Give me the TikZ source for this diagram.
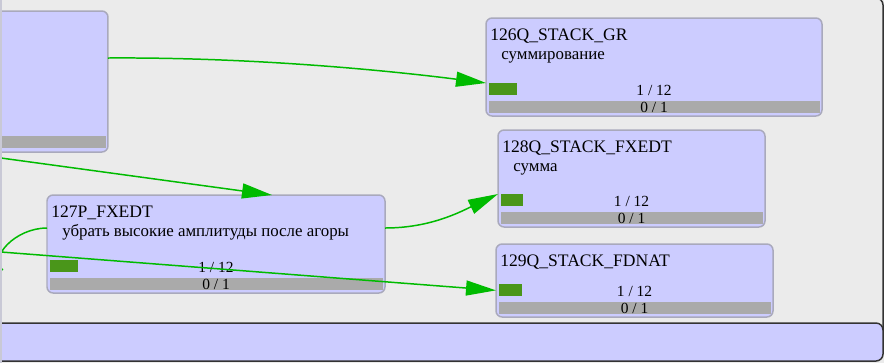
\documentclass[tikz,border=0pt]{standalone}
\usepackage{fontspec}
\setmainfont{Liberation Serif}
\usetikzlibrary{arrows.meta}
\definecolor{bgcol}{HTML}{EBEBEB}
\definecolor{jobfill}{HTML}{CCCCFF}
\definecolor{jobline}{HTML}{A9A9BC}
\definecolor{okcol}{HTML}{4A961A}
\definecolor{runcol}{HTML}{AAAAAA}
\definecolor{linkcol}{HTML}{00BB00}
\definecolor{framecol}{HTML}{333333}
\definecolor{stripcol}{HTML}{C9C9D6}

\newcommand{\jobnode}[7]{%
  \node[jobbox, minimum width=#4*0.02cm, minimum height=#5*0.02cm] (#1) at (#2,#3) {};
  \node[okbar, minimum width=(#4-5)/12*0.02cm] (#1ok) at ([shift={(3,-33)}]#1.south west) {};
  \node[runbar, minimum width=(#4-5)*0.02cm] (#1run) at ([shift={(3,-15)}]#1.south west) {};
  \node[jobtitle] at ([shift={(4,22)}]#1.north west) {#6};
  \node[jobnote] at ([shift={(15,41)}]#1.north west) {#7};
  \node[jobcount] at (#1.center |- #1ok.south) {1 / 12};
  \node[jobcount, yshift=0.02cm] at (#1.center |- #1run.south) {0 / 1};
}

\begin{document}
\begin{tikzpicture}[x=0.02cm, y=-0.02cm,
  jobbox/.style={draw=jobline, fill=jobfill, line width=0.85pt, rounded corners=3.5pt,
    anchor=north west, inner sep=0pt, outer sep=0pt},
  okbar/.style={fill=okcol, anchor=north west, minimum height=0.24cm, inner sep=0pt},
  runbar/.style={fill=runcol, anchor=north west, minimum height=0.24cm, inner sep=0pt},
  jobtitle/.style={anchor=base west, inner sep=0pt, font=\fontsize{10}{12}\selectfont},
  jobnote/.style={anchor=base west, inner sep=0pt, font=\fontsize{9.6}{11}\selectfont},
  jobcount/.style={anchor=base, inner sep=0pt, font=\fontsize{8.8}{10}\selectfont},
  link/.style={draw=linkcol, line width=0.85pt, -{Triangle[length=0.6cm,width=0.3cm]}},
  frame/.style={draw=framecol, line width=0.85pt, rounded corners=4pt}]
\useasboundingbox (0,0) rectangle (884,363);
\fill[bgcol] (0,0) rectangle (884,363);
\draw[frame, fill=bgcol] (-20,-2) rectangle (883,340);
\draw[frame, fill=jobfill] (-20,323) rectangle (883,361);

\node[jobbox, minimum width=2.6cm, minimum height=141*0.02cm] (src) at (-22,11) {};
\node[runbar, minimum width=125*0.02cm] (srcrun) at ([shift={(3,-16)}]src.south west) {};

\jobnode{gr}{486}{18}{336}{98}{126Q\_STACK\_GR}{суммирование}
\jobnode{fxq}{498}{130}{267}{97}{128Q\_STACK\_FXEDT}{сумма}
\jobnode{dn}{496}{244}{277}{73}{129Q\_STACK\_FDNAT}{}
\jobnode{fx}{47}{195}{338}{98}{127P\_FXEDT}{убрать высокие амплитуды после агоры}

\coordinate (inA) at (1,158);
\coordinate (inB) at (1,252);
\coordinate (outA) at (2.8,270);

\draw[link] ([shift={(0,-23.5)}]src.east) .. controls (260,57) and (400,72) .. (gr.west |- grok.north);
\draw[link] (inA) -- ([shift={(56,0)}]fx.north);
\draw[link] ([shift={(0,-16)}]fx.east) .. controls (430,228) and (460,212) .. (fxq.west |- fxqok.north);
\draw[link] (inB) -- (dn.west |- dnok.center);
\draw[link, -] ([shift={(0,-16)}]fx.west) .. controls (15,228) and (-12,258) .. (outA);

\fill[stripcol] (0,0) rectangle (2.3,363);
\end{tikzpicture}
\end{document}
